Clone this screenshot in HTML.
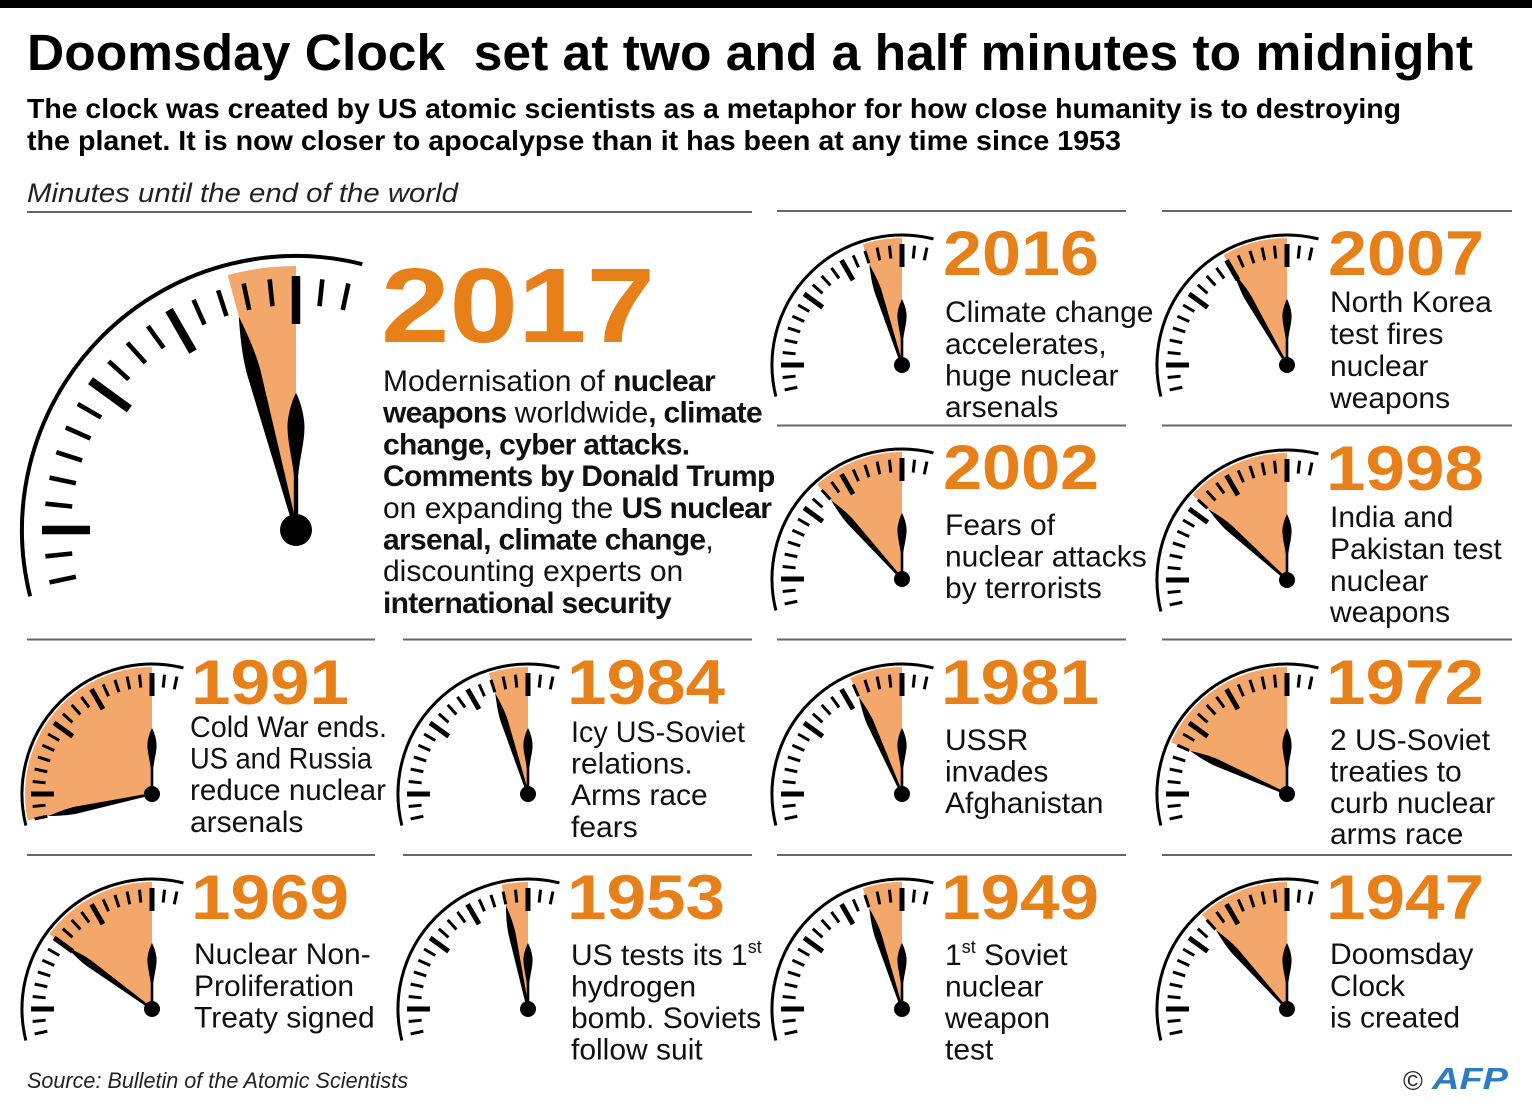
<!DOCTYPE html>
<html>
<head>
<meta charset="utf-8">
<style>
  html,body{margin:0;padding:0;background:#fff;}
  svg{display:block;}
  .yr{font-family:'Liberation Sans',sans-serif;font-weight:bold;font-size:63px;fill:#E8801A;}
  .d{font-family:'Liberation Sans',sans-serif;font-size:30px;fill:#111;}
  .b{font-weight:bold;letter-spacing:-0.7px;}
  .sup{font-size:18px;}
</style>
</head>
<body>
<svg width="1532" height="1116" viewBox="0 0 1532 1116" xmlns="http://www.w3.org/2000/svg">
<defs>
  <g id="dialS">
    <path d="M31.45,-126.14 A130,130 0 0 0 -126.14,31.45" fill="none" stroke="#000" stroke-width="3"/>
    <g stroke="#000" stroke-width="3">
      <line x1="0" y1="-120" x2="0" y2="-107" transform="rotate(12)"/>
      <line x1="0" y1="-120" x2="0" y2="-107" transform="rotate(6)"/>
      <line x1="0" y1="-120" x2="0" y2="-107" transform="rotate(-6)"/>
      <line x1="0" y1="-120" x2="0" y2="-107" transform="rotate(-12)"/>
      <line x1="0" y1="-120" x2="0" y2="-107" transform="rotate(-18)"/>
      <line x1="0" y1="-120" x2="0" y2="-107" transform="rotate(-24)"/>
      <line x1="0" y1="-120" x2="0" y2="-107" transform="rotate(-36)"/>
      <line x1="0" y1="-120" x2="0" y2="-107" transform="rotate(-42)"/>
      <line x1="0" y1="-120" x2="0" y2="-107" transform="rotate(-48)"/>
      <line x1="0" y1="-120" x2="0" y2="-107" transform="rotate(-60)"/>
      <line x1="0" y1="-120" x2="0" y2="-107" transform="rotate(-66)"/>
      <line x1="0" y1="-120" x2="0" y2="-107" transform="rotate(-72)"/>
      <line x1="0" y1="-120" x2="0" y2="-107" transform="rotate(-78)"/>
      <line x1="0" y1="-120" x2="0" y2="-107" transform="rotate(-84)"/>
      <line x1="0" y1="-120" x2="0" y2="-107" transform="rotate(-96)"/>
      <line x1="0" y1="-120" x2="0" y2="-107" transform="rotate(-102)"/>
    </g>
    <g stroke="#000" stroke-width="5">
      <line x1="0" y1="-121" x2="0" y2="-98"/>
      <line x1="0" y1="-121" x2="0" y2="-98" transform="rotate(-30)"/>
      <line x1="0" y1="-121" x2="0" y2="-98" transform="rotate(-54)"/>
      <line x1="0" y1="-121" x2="0" y2="-98" transform="rotate(-90)"/>
    </g>
  </g>
  <path id="minS" d="M0,-106 C2,-96 3.6,-86 3.6,-77 L1.2,-4 L-1.2,-4 L-3.6,-77 C-3.6,-86 -2,-96 0,-106 Z" fill="#000"/>
  <g id="hourS">
    <path d="M0,-66 C2.6,-61 4.6,-54 4.6,-49 C4.6,-42 2,-33 1.3,-26 L1.3,0 L-1.3,0 L-1.3,-26 C-2,-33 -4.6,-42 -4.6,-49 C-4.6,-54 -2.6,-61 0,-66 Z" fill="#000"/>
    <circle r="8" fill="#000"/>
  </g>
</defs>

<rect width="1532" height="1116" fill="#fff"/>
<rect x="0" y="0" width="1532" height="8" fill="#000"/>

<!-- Header -->
<text x="27" y="70" xml:space="preserve" font-family="'Liberation Sans', sans-serif" font-weight="bold" font-size="51" fill="#000" textLength="1446" lengthAdjust="spacingAndGlyphs">Doomsday Clock  set at two and a half minutes to midnight</text>
<text x="27" y="118" font-family="'Liberation Sans', sans-serif" font-weight="bold" font-size="28" fill="#000" textLength="1374" lengthAdjust="spacingAndGlyphs">The clock was created by US atomic scientists as a metaphor for how close humanity is to destroying</text>
<text x="27" y="150" font-family="'Liberation Sans', sans-serif" font-weight="bold" font-size="28" fill="#000" textLength="1094" lengthAdjust="spacingAndGlyphs">the planet. It is now closer to apocalypse than it has been at any time since 1953</text>
<text x="27" y="202" font-family="'Liberation Sans', sans-serif" font-style="italic" font-size="27" fill="#222" textLength="431" lengthAdjust="spacingAndGlyphs">Minutes until the end of the world</text>

<!-- Divider lines -->
<g stroke="#666" stroke-width="2">
  <line x1="27" y1="212" x2="752" y2="212"/>
  <line x1="777" y1="211" x2="1126" y2="211"/>
  <line x1="1162" y1="211" x2="1512" y2="211"/>
  <line x1="777" y1="425.5" x2="1126" y2="425.5"/>
  <line x1="1162" y1="425.5" x2="1512" y2="425.5"/>
  <line x1="27" y1="639.5" x2="375" y2="639.5"/>
  <line x1="403" y1="639.5" x2="752" y2="639.5"/>
  <line x1="777" y1="639.5" x2="1126" y2="639.5"/>
  <line x1="1162" y1="639.5" x2="1512" y2="639.5"/>
  <line x1="27" y1="855" x2="375" y2="855"/>
  <line x1="403" y1="855" x2="752" y2="855"/>
  <line x1="777" y1="855" x2="1126" y2="855"/>
  <line x1="1162" y1="855" x2="1512" y2="855"/>
</g>

<!-- Big 2017 clock -->
<g transform="translate(296,530)">
  <path d="M0,0 L-68.3,-255 A264,264 0 0 1 0,-264 Z" fill="#F4A76B"/>
  <path d="M66.29,-265.86 A274,274 0 0 0 -265.86,66.29" fill="none" stroke="#000" stroke-width="4"/>
  <g stroke="#000" stroke-width="4.6">
    <line x1="0" y1="-252" x2="0" y2="-225" transform="rotate(12)"/>
    <line x1="0" y1="-252" x2="0" y2="-225" transform="rotate(6)"/>
    <line x1="0" y1="-252" x2="0" y2="-225" transform="rotate(-6)"/>
    <line x1="0" y1="-252" x2="0" y2="-225" transform="rotate(-12)"/>
    <line x1="0" y1="-252" x2="0" y2="-225" transform="rotate(-18)"/>
    <line x1="0" y1="-252" x2="0" y2="-225" transform="rotate(-24)"/>
    <line x1="0" y1="-252" x2="0" y2="-225" transform="rotate(-36)"/>
    <line x1="0" y1="-252" x2="0" y2="-225" transform="rotate(-42)"/>
    <line x1="0" y1="-252" x2="0" y2="-225" transform="rotate(-48)"/>
    <line x1="0" y1="-252" x2="0" y2="-225" transform="rotate(-60)"/>
    <line x1="0" y1="-252" x2="0" y2="-225" transform="rotate(-66)"/>
    <line x1="0" y1="-252" x2="0" y2="-225" transform="rotate(-72)"/>
    <line x1="0" y1="-252" x2="0" y2="-225" transform="rotate(-78)"/>
    <line x1="0" y1="-252" x2="0" y2="-225" transform="rotate(-84)"/>
    <line x1="0" y1="-252" x2="0" y2="-225" transform="rotate(-96)"/>
    <line x1="0" y1="-252" x2="0" y2="-225" transform="rotate(-102)"/>
  </g>
  <g stroke="#000" stroke-width="8.5">
    <line x1="0" y1="-254" x2="0" y2="-206"/>
    <line x1="0" y1="-254" x2="0" y2="-206" transform="rotate(-30)"/>
    <line x1="0" y1="-254" x2="0" y2="-206" transform="rotate(-54)"/>
    <line x1="0" y1="-254" x2="0" y2="-206" transform="rotate(-90)"/>
  </g>
  <path d="M0,-221 C4,-201 7,-182 7,-163 L2,-6 L-2,-6 L-7,-163 C-7,-182 -4,-201 0,-221 Z" fill="#000" transform="rotate(-15)"/>
  <path d="M0,-137 C5,-128 8.5,-113 8.5,-103 C8.5,-88 3.5,-70 2.2,-55 L2.2,0 L-2.2,0 L-2.2,-55 C-3.5,-70 -8.5,-88 -8.5,-103 C-8.5,-113 -5,-128 0,-137 Z" fill="#000"/>
  <circle r="16" fill="#000"/>
</g>

<text class="yr" x="381" y="342" style="font-size:106px" textLength="274" lengthAdjust="spacingAndGlyphs">2017</text>
<text class="d" x="383" y="391">Modernisation of <tspan class="b">nuclear</tspan></text>
<text class="d" x="383" y="422.7"><tspan class="b">weapons</tspan> worldwide<tspan class="b">, climate</tspan></text>
<text class="d" x="383" y="454.4"><tspan class="b">change, cyber attacks.</tspan></text>
<text class="d" x="383" y="486.1"><tspan class="b">Comments by Donald Trump</tspan></text>
<text class="d" x="383" y="517.8">on expanding the <tspan class="b">US nuclear</tspan></text>
<text class="d" x="383" y="549.5"><tspan class="b">arsenal, climate change</tspan>,</text>
<text class="d" x="383" y="581.2">discounting experts on</text>
<text class="d" x="383" y="612.9"><tspan class="b">international security</tspan></text>

<!-- 2016 -->
<g transform="translate(902,365)">
  <path d="M0,0 L-39.2,-120.8 A127,127 0 0 1 0,-127 Z" fill="#F4A76B"/>
  <use href="#dialS"/>
  <use href="#minS" transform="rotate(-18)"/>
  <use href="#hourS"/>
</g>
<text class="yr" x="943" y="275" textLength="156" lengthAdjust="spacingAndGlyphs">2016</text>
<text class="d" x="945" y="322">Climate change</text>
<text class="d" x="945" y="354">accelerates,</text>
<text class="d" x="945" y="385.5">huge nuclear</text>
<text class="d" x="945" y="417">arsenals</text>

<!-- 2007 -->
<g transform="translate(1287,365)">
  <path d="M0,0 L-63.5,-110 A127,127 0 0 1 0,-127 Z" fill="#F4A76B"/>
  <use href="#dialS"/>
  <use href="#minS" transform="rotate(-30)"/>
  <use href="#hourS"/>
</g>
<text class="yr" x="1328" y="275" textLength="156" lengthAdjust="spacingAndGlyphs">2007</text>
<text class="d" x="1330" y="312">North Korea</text>
<text class="d" x="1330" y="344">test fires</text>
<text class="d" x="1330" y="376">nuclear</text>
<text class="d" x="1330" y="408">weapons</text>

<!-- 2002 -->
<g transform="translate(902,579)">
  <path d="M0,0 L-85,-94.4 A127,127 0 0 1 0,-127 Z" fill="#F4A76B"/>
  <use href="#dialS"/>
  <use href="#minS" transform="rotate(-42)"/>
  <use href="#hourS"/>
</g>
<text class="yr" x="943" y="489" textLength="156" lengthAdjust="spacingAndGlyphs">2002</text>
<text class="d" x="945" y="535">Fears of</text>
<text class="d" x="945" y="566.5">nuclear attacks</text>
<text class="d" x="945" y="598">by terrorists</text>

<!-- 1998 -->
<g transform="translate(1287,580)">
  <path d="M0,0 L-94.4,-85 A127,127 0 0 1 0,-127 Z" fill="#F4A76B"/>
  <use href="#dialS"/>
  <use href="#minS" transform="rotate(-48)"/>
  <use href="#hourS"/>
</g>
<text class="yr" x="1326" y="490" textLength="158" lengthAdjust="spacingAndGlyphs">1998</text>
<text class="d" x="1330" y="527">India and</text>
<text class="d" x="1330" y="559">Pakistan test</text>
<text class="d" x="1330" y="591">nuclear</text>
<text class="d" x="1330" y="622">weapons</text>

<!-- 1991 -->
<g transform="translate(152,794)">
  <path d="M0,0 L-124.2,26.4 A127,127 0 0 1 0,-127 Z" fill="#F4A76B"/>
  <use href="#dialS"/>
  <use href="#minS" transform="rotate(-102)"/>
  <use href="#hourS"/>
</g>
<text class="yr" x="191" y="704" textLength="158" lengthAdjust="spacingAndGlyphs">1991</text>
<text class="d" x="190" y="737" textLength="197" lengthAdjust="spacingAndGlyphs">Cold War ends.</text>
<text class="d" x="190" y="768.5" textLength="182" lengthAdjust="spacingAndGlyphs">US and Russia</text>
<text class="d" x="190" y="800" textLength="196" lengthAdjust="spacingAndGlyphs">reduce nuclear</text>
<text class="d" x="190" y="832">arsenals</text>

<!-- 1984 -->
<g transform="translate(528,794)">
  <path d="M0,0 L-39.2,-120.8 A127,127 0 0 1 0,-127 Z" fill="#F4A76B"/>
  <use href="#dialS"/>
  <use href="#minS" transform="rotate(-18)"/>
  <use href="#hourS"/>
</g>
<text class="yr" x="567" y="704" textLength="158" lengthAdjust="spacingAndGlyphs">1984</text>
<text class="d" x="571" y="742" textLength="174" lengthAdjust="spacingAndGlyphs">Icy US-Soviet</text>
<text class="d" x="571" y="773.5">relations.</text>
<text class="d" x="571" y="805">Arms race</text>
<text class="d" x="571" y="837">fears</text>

<!-- 1981 -->
<g transform="translate(902,794)">
  <path d="M0,0 L-51.7,-116 A127,127 0 0 1 0,-127 Z" fill="#F4A76B"/>
  <use href="#dialS"/>
  <use href="#minS" transform="rotate(-24)"/>
  <use href="#hourS"/>
</g>
<text class="yr" x="941" y="704" textLength="158" lengthAdjust="spacingAndGlyphs">1981</text>
<text class="d" x="945" y="750">USSR</text>
<text class="d" x="945" y="781.5">invades</text>
<text class="d" x="945" y="813">Afghanistan</text>

<!-- 1972 -->
<g transform="translate(1287,794)">
  <path d="M0,0 L-116,-51.7 A127,127 0 0 1 0,-127 Z" fill="#F4A76B"/>
  <use href="#dialS"/>
  <use href="#minS" transform="rotate(-66)"/>
  <use href="#hourS"/>
</g>
<text class="yr" x="1326" y="704" textLength="158" lengthAdjust="spacingAndGlyphs">1972</text>
<text class="d" x="1330" y="750">2 US-Soviet</text>
<text class="d" x="1330" y="781.5">treaties to</text>
<text class="d" x="1330" y="813">curb nuclear</text>
<text class="d" x="1330" y="844">arms race</text>

<!-- 1969 -->
<g transform="translate(152,1009)">
  <path d="M0,0 L-102.7,-74.6 A127,127 0 0 1 0,-127 Z" fill="#F4A76B"/>
  <use href="#dialS"/>
  <use href="#minS" transform="rotate(-54)"/>
  <use href="#hourS"/>
</g>
<text class="yr" x="191" y="919" textLength="158" lengthAdjust="spacingAndGlyphs">1969</text>
<text class="d" x="194" y="964">Nuclear Non-</text>
<text class="d" x="194" y="996">Proliferation</text>
<text class="d" x="194" y="1027.5">Treaty signed</text>

<!-- 1953 -->
<g transform="translate(528,1009)">
  <path d="M0,0 L-26.4,-124.2 A127,127 0 0 1 0,-127 Z" fill="#F4A76B"/>
  <use href="#dialS"/>
  <use href="#minS" transform="rotate(-12)"/>
  <use href="#hourS"/>
</g>
<text class="yr" x="567" y="919" textLength="158" lengthAdjust="spacingAndGlyphs">1953</text>
<text class="d" x="571" y="965">US tests its 1<tspan class="sup" dy="-12">st</tspan></text>
<text class="d" x="571" y="996.5">hydrogen</text>
<text class="d" x="571" y="1028">bomb. Soviets</text>
<text class="d" x="571" y="1059.5">follow suit</text>

<!-- 1949 -->
<g transform="translate(902,1009)">
  <path d="M0,0 L-39.2,-120.8 A127,127 0 0 1 0,-127 Z" fill="#F4A76B"/>
  <use href="#dialS"/>
  <use href="#minS" transform="rotate(-18)"/>
  <use href="#hourS"/>
</g>
<text class="yr" x="941" y="919" textLength="158" lengthAdjust="spacingAndGlyphs">1949</text>
<text class="d" x="945" y="965">1<tspan class="sup" dy="-12">st</tspan><tspan dy="12"> Soviet</tspan></text>
<text class="d" x="945" y="996.5">nuclear</text>
<text class="d" x="945" y="1028">weapon</text>
<text class="d" x="945" y="1059.5">test</text>

<!-- 1947 -->
<g transform="translate(1287,1009)">
  <path d="M0,0 L-85,-94.4 A127,127 0 0 1 0,-127 Z" fill="#F4A76B"/>
  <use href="#dialS"/>
  <use href="#minS" transform="rotate(-42)"/>
  <use href="#hourS"/>
</g>
<text class="yr" x="1326" y="919" textLength="158" lengthAdjust="spacingAndGlyphs">1947</text>
<text class="d" x="1330" y="964">Doomsday</text>
<text class="d" x="1330" y="996">Clock</text>
<text class="d" x="1330" y="1027.5">is created</text>

<!-- Footer -->
<text x="27" y="1088" font-family="'Liberation Sans', sans-serif" font-style="italic" font-size="22" fill="#222" textLength="381" lengthAdjust="spacingAndGlyphs">Source: Bulletin of the Atomic Scientists</text>
<text x="1403" y="1090" font-family="'Liberation Sans', sans-serif" font-size="27" fill="#222">©</text>
<text x="1432" y="1089" font-family="'Liberation Sans', sans-serif" font-style="italic" font-weight="bold" font-size="31" fill="#2C7BC3" textLength="76" lengthAdjust="spacingAndGlyphs">AFP</text>
</svg>
</body>
</html>
